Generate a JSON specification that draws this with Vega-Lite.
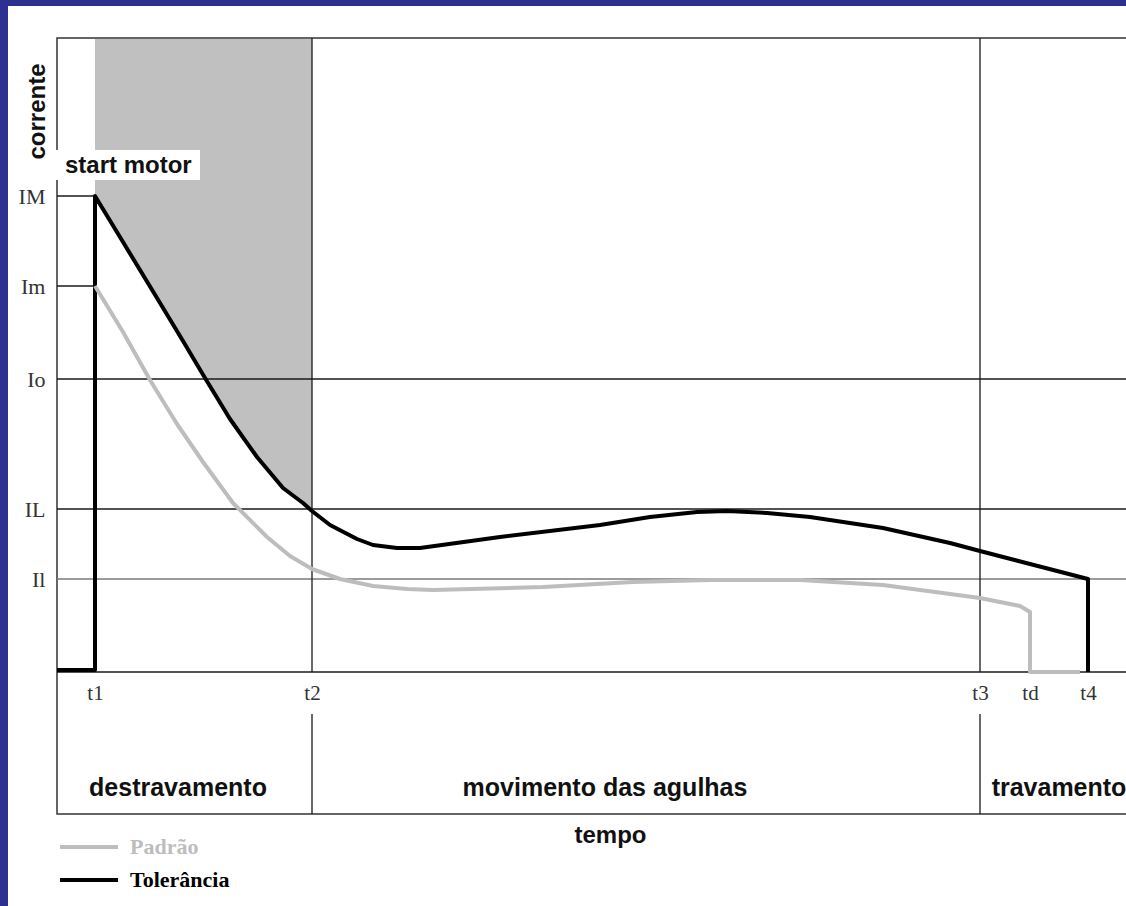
{
  "$schema": "https://vega.github.io/schema/vega-lite/v6.json",
  "width": 1071,
  "height": 776,
  "autosize": {"type": "none"},
  "padding": {"left": 57, "top": 38, "right": 0, "bottom": 92},
  "background": "white",
  "config": {
    "view": {"stroke": "#333333", "strokeWidth": 1.5},
    "font": "Liberation Sans"
  },
  "datasets": {
    "curves": [
      {"series": "Tolerância", "i": 0, "t": 0, "y": 0.02},
      {"series": "Tolerância", "i": 1, "t": 0.38, "y": 0.02},
      {"series": "Tolerância", "i": 2, "t": 0.38, "y": 4.76},
      {"series": "Tolerância", "i": 3, "t": 0.66, "y": 4.30},
      {"series": "Tolerância", "i": 4, "t": 1.00, "y": 3.74},
      {"series": "Tolerância", "i": 5, "t": 1.26, "y": 3.31},
      {"series": "Tolerância", "i": 6, "t": 1.48, "y": 2.94},
      {"series": "Tolerância", "i": 7, "t": 1.73, "y": 2.53},
      {"series": "Tolerância", "i": 8, "t": 2.00, "y": 2.15},
      {"series": "Tolerância", "i": 9, "t": 2.26, "y": 1.84},
      {"series": "Tolerância", "i": 10, "t": 2.46, "y": 1.69},
      {"series": "Tolerância", "i": 11, "t": 2.55, "y": 1.61},
      {"series": "Tolerância", "i": 12, "t": 2.73, "y": 1.47},
      {"series": "Tolerância", "i": 13, "t": 3.00, "y": 1.33},
      {"series": "Tolerância", "i": 14, "t": 3.16, "y": 1.27},
      {"series": "Tolerância", "i": 15, "t": 3.40, "y": 1.24},
      {"series": "Tolerância", "i": 16, "t": 3.63, "y": 1.24},
      {"series": "Tolerância", "i": 17, "t": 4.43, "y": 1.35},
      {"series": "Tolerância", "i": 18, "t": 5.43, "y": 1.47},
      {"series": "Tolerância", "i": 19, "t": 5.93, "y": 1.55},
      {"series": "Tolerância", "i": 20, "t": 6.40, "y": 1.60},
      {"series": "Tolerância", "i": 21, "t": 6.70, "y": 1.61},
      {"series": "Tolerância", "i": 22, "t": 7.10, "y": 1.59},
      {"series": "Tolerância", "i": 23, "t": 7.53, "y": 1.55},
      {"series": "Tolerância", "i": 24, "t": 8.26, "y": 1.44},
      {"series": "Tolerância", "i": 25, "t": 8.93, "y": 1.29},
      {"series": "Tolerância", "i": 26, "t": 9.23, "y": 1.21},
      {"series": "Tolerância", "i": 27, "t": 10.31, "y": 0.93},
      {"series": "Tolerância", "i": 28, "t": 10.31, "y": 0},
      {"series": "Padrão", "i": 0, "t": 0.38, "y": 3.86},
      {"series": "Padrão", "i": 1, "t": 0.66, "y": 3.40},
      {"series": "Padrão", "i": 2, "t": 0.93, "y": 2.92},
      {"series": "Padrão", "i": 3, "t": 1.20, "y": 2.48},
      {"series": "Padrão", "i": 4, "t": 1.46, "y": 2.10},
      {"series": "Padrão", "i": 5, "t": 1.76, "y": 1.69},
      {"series": "Padrão", "i": 6, "t": 2.10, "y": 1.35},
      {"series": "Padrão", "i": 7, "t": 2.33, "y": 1.16},
      {"series": "Padrão", "i": 8, "t": 2.55, "y": 1.03},
      {"series": "Padrão", "i": 9, "t": 2.83, "y": 0.93},
      {"series": "Padrão", "i": 10, "t": 3.16, "y": 0.86},
      {"series": "Padrão", "i": 11, "t": 3.50, "y": 0.83},
      {"series": "Padrão", "i": 12, "t": 3.76, "y": 0.82},
      {"series": "Padrão", "i": 13, "t": 4.86, "y": 0.85},
      {"series": "Padrão", "i": 14, "t": 5.76, "y": 0.90},
      {"series": "Padrão", "i": 15, "t": 6.53, "y": 0.92},
      {"series": "Padrão", "i": 16, "t": 7.43, "y": 0.92},
      {"series": "Padrão", "i": 17, "t": 8.26, "y": 0.87},
      {"series": "Padrão", "i": 18, "t": 9.23, "y": 0.74},
      {"series": "Padrão", "i": 19, "t": 9.63, "y": 0.66},
      {"series": "Padrão", "i": 20, "t": 9.73, "y": 0.60},
      {"series": "Padrão", "i": 21, "t": 9.73, "y": 0},
      {"series": "Padrão", "i": 22, "t": 10.23, "y": 0}
    ],
    "levels": [
      {"level": "IM", "current": 4.76, "t_start": 0, "t_end": 0.38, "tone": "dark"},
      {"level": "Im", "current": 3.86, "t_start": 0, "t_end": 0.38, "tone": "dark"},
      {"level": "Io", "current": 2.93, "t_start": 0, "t_end": 10.71, "tone": "dark"},
      {"level": "IL", "current": 1.63, "t_start": 0, "t_end": 10.71, "tone": "dark"},
      {"level": "Il", "current": 0.93, "t_start": 0, "t_end": 10.71, "tone": "light"},
      {"level": "zero", "current": 0, "t_start": 0, "t_end": 10.71, "tone": "dark"}
    ],
    "marks": [
      {"mark": "t1", "t": 0.38},
      {"mark": "t2", "t": 2.55},
      {"mark": "t3", "t": 9.23},
      {"mark": "td", "t": 9.73},
      {"mark": "t4", "t": 10.31}
    ],
    "phases": [
      {"phase": "destravamento", "t": 1.21},
      {"phase": "movimento das agulhas", "t": 5.48},
      {"phase": "travamento", "t": 10.02}
    ],
    "legend": [
      {"series": "Padrão", "ly": -1.75, "lx0": 0.03, "lx1": 0.61, "tx": 0.73},
      {"series": "Tolerância", "ly": -2.08, "lx0": 0.03, "lx1": 0.61, "tx": 0.73}
    ]
  },
  "layer": [
    {
      "data": {"name": "curves"},
      "transform": [{"filter": "datum.series == 'Tolerância' && datum.i >= 2 && datum.t <= 2.55"}],
      "mark": {"type": "area", "color": "#C0C0C0", "opacity": 1},
      "encoding": {
        "x": {
          "field": "t", "type": "quantitative",
          "scale": {"domain": [0, 10.71], "nice": false, "zero": false},
          "axis": {
            "values": [0.38, 2.55, 9.23, 9.73, 10.31],
            "labelExpr": "datum.value == 0.38 ? 't1' : datum.value == 2.55 ? 't2' : datum.value == 9.23 ? 't3' : datum.value == 9.73 ? 'td' : 't4'",
            "offset": -142,
            "domain": false, "ticks": false, "grid": false,
            "labelFont": "Liberation Serif", "labelFontSize": 21, "labelColor": "#333333",
            "labelPadding": 10, "labelFlush": false, "labelOverlap": false,
            "zindex": 1,
            "title": "tempo",
            "titleFont": "Liberation Sans", "titleFontSize": 24, "titleFontWeight": "bold", "titleColor": "#111111",
            "titleX": 553, "titleY": 163, "titleAlign": "center", "titleBaseline": "middle"
          }
        },
        "y": {
          "field": "y", "type": "quantitative",
          "scale": {"domain": [-1.42, 6.34], "nice": false, "zero": false},
          "axis": {
            "values": [4.76, 3.86, 2.93, 1.63, 0.93],
            "labelExpr": "datum.value == 4.76 ? 'IM' : datum.value == 3.86 ? 'Im' : datum.value == 2.93 ? 'Io' : datum.value == 1.63 ? 'IL' : 'Il'",
            "domain": false, "ticks": false, "grid": false,
            "labelFont": "Liberation Serif", "labelFontSize": 22, "labelColor": "#333333",
            "labelPadding": 12, "labelOverlap": false, "labelFlush": false,
            "zindex": 1,
            "title": "corrente",
            "titleFont": "Liberation Sans", "titleFontSize": 24, "titleFontWeight": "bold", "titleColor": "#111111",
            "titleAngle": 270, "titleX": -20, "titleY": 73, "titleAlign": "center", "titleBaseline": "middle"
          }
        },
        "y2": {"datum": 6.33}
      }
    },
    {
      "data": {"values": [{"strip": "top"}]},
      "mark": {"type": "rect", "color": "#2E3091"},
      "encoding": {
        "x": {"datum": -1, "type": "quantitative"},
        "x2": {"datum": 11},
        "y": {"datum": 6.66, "type": "quantitative"},
        "y2": {"datum": 7.5}
      }
    },
    {
      "data": {"values": [{"strip": "left"}]},
      "mark": {"type": "rect", "color": "#2E3091"},
      "encoding": {
        "x": {"datum": -1, "type": "quantitative"},
        "x2": {"datum": -0.49},
        "y": {"datum": -3, "type": "quantitative"},
        "y2": {"datum": 7.5}
      }
    },
    {
      "data": {"values": [{"box": "start motor"}]},
      "mark": {"type": "rect", "color": "white"},
      "encoding": {
        "x": {"datum": -0.05, "type": "quantitative"},
        "x2": {"datum": 1.43},
        "y": {"datum": 5.22, "type": "quantitative"},
        "y2": {"datum": 4.92}
      }
    },
    {
      "data": {"values": [{"label": "start motor"}]},
      "mark": {"type": "text", "align": "left", "baseline": "alphabetic", "fontSize": 24, "fontWeight": "bold", "font": "Liberation Sans", "color": "#111111"},
      "encoding": {
        "x": {"datum": 0.08, "type": "quantitative"},
        "y": {"datum": 4.99, "type": "quantitative"},
        "text": {"field": "label"}
      }
    },
    {
      "data": {"name": "levels"},
      "mark": {"type": "rule", "strokeWidth": 1.3, "color": "#1a1a1a"},
      "transform": [{"filter": "datum.tone == 'dark'"}],
      "encoding": {
        "x": {"field": "t_start", "type": "quantitative"},
        "x2": {"field": "t_end"},
        "y": {"field": "current", "type": "quantitative"}
      }
    },
    {
      "data": {"name": "levels"},
      "mark": {"type": "rule", "strokeWidth": 1.3, "color": "#7a7a7a"},
      "transform": [{"filter": "datum.tone == 'light'"}],
      "encoding": {
        "x": {"field": "t_start", "type": "quantitative"},
        "x2": {"field": "t_end"},
        "y": {"field": "current", "type": "quantitative"}
      }
    },
    {
      "data": {"name": "marks"},
      "transform": [{"filter": "datum.mark == 't2' || datum.mark == 't3'"}],
      "mark": {"type": "rule", "strokeWidth": 1.3, "color": "#1a1a1a"},
      "encoding": {
        "x": {"field": "t", "type": "quantitative"},
        "y": {"datum": 0, "type": "quantitative"},
        "y2": {"datum": 6.34}
      }
    },
    {
      "data": {"name": "marks"},
      "transform": [{"filter": "datum.mark == 't2' || datum.mark == 't3'"}],
      "mark": {"type": "rule", "strokeWidth": 1.3, "color": "#1a1a1a"},
      "encoding": {
        "x": {"field": "t", "type": "quantitative"},
        "y": {"datum": -0.42, "type": "quantitative"},
        "y2": {"datum": -1.42}
      }
    },
    {
      "data": {"name": "curves"},
      "mark": {"type": "line", "strokeWidth": 4, "strokeJoin": "round"},
      "encoding": {
        "x": {"field": "t", "type": "quantitative"},
        "y": {"field": "y", "type": "quantitative"},
        "order": {"field": "i", "type": "quantitative"},
        "color": {
          "field": "series", "type": "nominal",
          "scale": {"domain": ["Padrão", "Tolerância"], "range": ["#BDBDBD", "#000000"]},
          "legend": null
        }
      }
    },
    {
      "data": {"name": "phases"},
      "mark": {"type": "text", "align": "center", "baseline": "alphabetic", "fontSize": 25, "fontWeight": "bold", "font": "Liberation Sans", "color": "#111111"},
      "encoding": {
        "x": {"field": "t", "type": "quantitative"},
        "y": {"datum": -1.24, "type": "quantitative"},
        "text": {"field": "phase"}
      }
    },
    {
      "data": {"name": "legend"},
      "mark": {"type": "rule", "strokeWidth": 4},
      "encoding": {
        "x": {"field": "lx0", "type": "quantitative"},
        "x2": {"field": "lx1"},
        "y": {"field": "ly", "type": "quantitative"},
        "color": {"field": "series", "type": "nominal", "legend": null}
      }
    },
    {
      "data": {"name": "legend"},
      "mark": {"type": "text", "align": "left", "baseline": "middle", "fontSize": 22, "fontWeight": "bold", "font": "Liberation Serif"},
      "encoding": {
        "x": {"field": "tx", "type": "quantitative"},
        "y": {"field": "ly", "type": "quantitative"},
        "text": {"field": "series"},
        "color": {"field": "series", "type": "nominal", "legend": null}
      }
    }
  ]
}
